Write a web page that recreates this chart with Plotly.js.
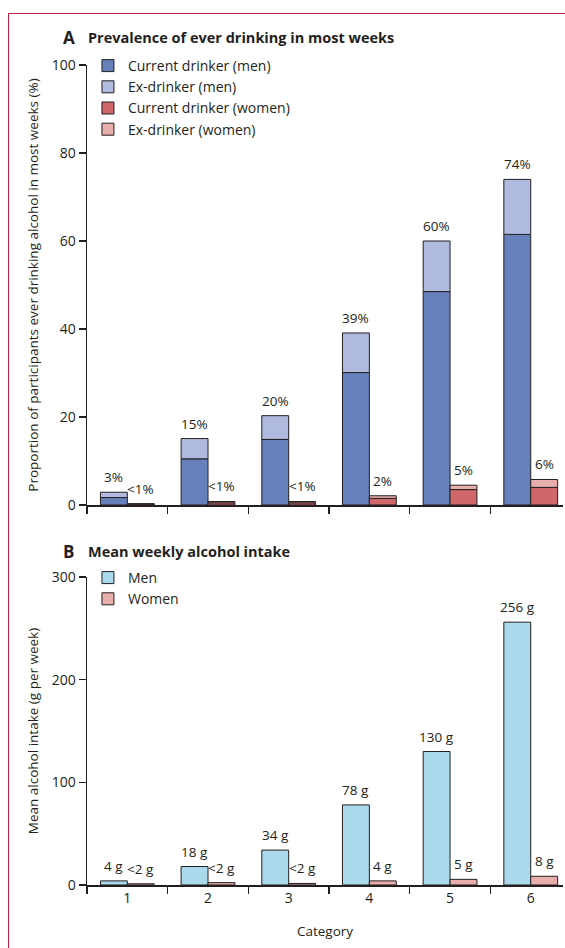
<!DOCTYPE html>
<html><head><meta charset="utf-8">
<script src="https://cdn.plot.ly/plotly-3.0.1.min.js"></script>
<style>
html,body{margin:0;padding:0;background:#fff;}
#frame{position:absolute;left:8px;top:13px;width:557px;height:935px;border-left:1.5px solid #c0203f;border-top:1.5px solid #c0203f;box-sizing:border-box;}
#chart{position:absolute;left:0;top:0;width:565px;height:948px;}
</style></head><body>
<div id="frame"></div><div id="chart"></div>
<script>
const categories = ['1','2','3','4','5','6'];
const menCurrent = [1.7, 10.5, 14.9, 30.1, 48.5, 61.5];
const menEx = [1.2, 4.6, 5.4, 9.0, 11.5, 12.5];
const womenCurrent = [0.2, 0.5, 0.5, 1.5, 3.5, 4.0];
const womenEx = [0.1, 0.3, 0.3, 0.6, 1.0, 1.8];
const menPrevLabels = ['3%','15%','20%','39%','60%','74%'];
const womenPrevLabels = ['<1%','<1%','<1%','2%','5%','6%'];
const menIntake = [4, 18, 34, 78, 130, 256];
const womenIntake = [1.2, 2.3, 1.5, 4, 5.5, 8.5];
const menIntakeLabels = ['4 g','18 g','34 g','78 g','130 g','256 g'];
const womenIntakeLabels = ['<2 g','<2 g','<2 g','4 g','5 g','8 g'];

const ink = '#231f20';
const fam = '"Open Sans", Lato, sans-serif';
const outline = {color: ink, width: 1};

const menTotal = menCurrent.map((v, i) => v + menEx[i]);
const womenTotal = womenCurrent.map((v, i) => v + womenEx[i]);

const traces = [
  {type:'bar', name:'Current drinker (men)', x:categories, y:menCurrent, offsetgroup:'m', xaxis:'x', yaxis:'y',
   marker:{color:'#6580ba', line:outline}, legend:'legend', hoverinfo:'skip'},
  {type:'bar', name:'Ex-drinker (men)', x:categories, y:menEx, base:menCurrent, offsetgroup:'m', xaxis:'x', yaxis:'y',
   marker:{color:'#b0bade', line:outline}, legend:'legend', hoverinfo:'skip'},
  {type:'bar', name:'Current drinker (women)', x:categories, y:womenCurrent, offsetgroup:'w', xaxis:'x', yaxis:'y',
   marker:{color:'#d0676a', line:outline}, legend:'legend', hoverinfo:'skip'},
  {type:'bar', name:'Ex-drinker (women)', x:categories, y:womenEx, base:womenCurrent, offsetgroup:'w', xaxis:'x', yaxis:'y',
   marker:{color:'#e8aeab', line:outline}, legend:'legend', hoverinfo:'skip'},
  {type:'bar', name:'Men', x:categories, y:menIntake, offsetgroup:'m', xaxis:'x2', yaxis:'y2',
   marker:{color:'#a9d9ea', line:outline}, legend:'legend2', hoverinfo:'skip'},
  {type:'bar', name:'Women', x:categories, y:womenIntake, offsetgroup:'w', xaxis:'x2', yaxis:'y2',
   marker:{color:'#e8aeab', line:outline}, legend:'legend2', hoverinfo:'skip'}
];

const half = 13.45;
const annotations = [];
function addLabels(vals, labels, xref, yref, shift) {
  vals.forEach((v, i) => {
    annotations.push({x:i, y:v, xref:xref, yref:yref, text:labels[i], showarrow:false,
      xanchor:'center', yanchor:'bottom', xshift:shift, yshift:4, font:{family:fam, size:13.5, color:ink}});
  });
}
addLabels(menTotal, menPrevLabels, 'x', 'y', -half);
addLabels(womenTotal, womenPrevLabels, 'x', 'y', half);
addLabels(menIntake, menIntakeLabels, 'x2', 'y2', -half);
addLabels(womenIntake, womenIntakeLabels, 'x2', 'y2', half);

function panelTitle(letter, text, ypx) {
  annotations.push({xref:'paper', yref:'paper', x:(61-87)/476, y:1-ypx/948, xanchor:'left', yanchor:'middle',
    text:letter, showarrow:false, font:{family:fam, size:17, weight:'bold', color:ink}});
  annotations.push({xref:'paper', yref:'paper', x:-1/476, y:1-ypx/948, xanchor:'left', yanchor:'middle',
    text:text, showarrow:false, font:{family:fam, size:14.5, weight:'bold', color:ink}});
}
panelTitle('A', 'Prevalence of ever drinking in most weeks', 37);
panelTitle('B', 'Mean weekly alcohol intake', 551);

const xBase = {type:'category', range:[-0.5, 5.4], showline:true, linecolor:ink, linewidth:1.5,
  ticks:'outside', ticklen:7, tickwidth:1.3, tickcolor:ink, tickson:'boundaries', showgrid:false, zeroline:false,
  fixedrange:true, tickfont:{family:fam, size:14, color:ink}};
const yBase = {showline:true, linecolor:ink, linewidth:1.5, ticks:'outside', ticklen:7, tickwidth:1.3, tickcolor:ink,
  showgrid:false, zeroline:false, fixedrange:true, tickfont:{family:fam, size:14, color:ink}};

const layout = {
  width:565, height:948, margin:{l:87, r:2, t:0, b:0},
  paper_bgcolor:'rgba(0,0,0,0)', plot_bgcolor:'rgba(0,0,0,0)',
  font:{family:fam, size:14, color:ink},
  barmode:'group', bargap:1/3, bargroupgap:0,
  showlegend:true,
  xaxis:Object.assign({}, xBase, {anchor:'y', showticklabels:false}),
  yaxis:Object.assign({}, yBase, {domain:[1-505/948, 1-65/948], range:[0,100], tickvals:[0,20,40,60,80,100],
    title:{text:'Proportion of participants ever drinking alcohol in most weeks (%)', font:{family:fam, size:13.5, color:ink}, standoff:10}}),
  xaxis2:Object.assign({}, xBase, {anchor:'y2', showticklabels:true,
    title:{text:'Category', font:{family:fam, size:13.5, color:ink}, standoff:20}}),
  yaxis2:Object.assign({}, yBase, {domain:[1-885/948, 1-577/948], range:[0,300], tickvals:[0,100,200,300],
    title:{text:'Mean alcohol intake (g per week)', font:{family:fam, size:13.5, color:ink}, standoff:10}}),
  legend:{x:0.002, y:1-50/948, xanchor:'left', yanchor:'top', bgcolor:'rgba(0,0,0,0)', tracegroupgap:0,
    font:{family:fam, size:14, color:ink}, traceorder:'normal'},
  legend2:{x:0.002, y:1-562/948, xanchor:'left', yanchor:'top', bgcolor:'rgba(0,0,0,0)', tracegroupgap:0,
    font:{family:fam, size:14, color:ink}, traceorder:'normal'},
  annotations:annotations
};

Plotly.newPlot('chart', traces, layout, {displayModeBar:false, staticPlot:true});
</script>
</body></html>
